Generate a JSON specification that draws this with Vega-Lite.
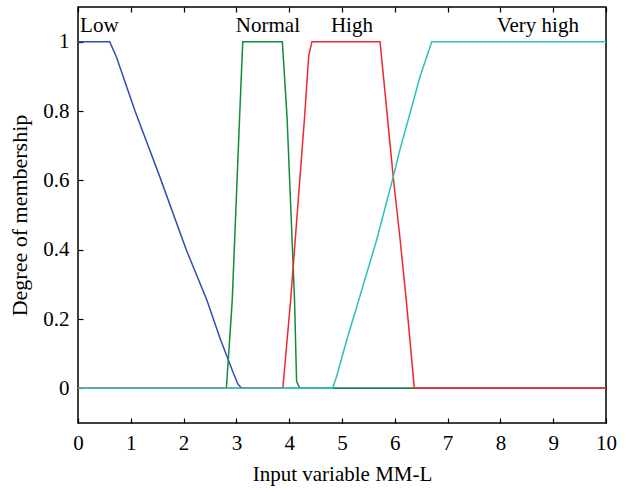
{
  "$schema": "https://vega.github.io/schema/vega-lite/v6.json",
  "width": 528,
  "height": 416,
  "autosize": {"type": "none"},
  "padding": {"left": 78, "top": 7, "right": 21, "bottom": 69},
  "background": "white",
  "datasets": {
    "lines": [
      {"set": "Low", "x": 0, "y": 1},
      {"set": "Low", "x": 0.6, "y": 1},
      {"set": "Low", "x": 0.73, "y": 0.955},
      {"set": "Low", "x": 1.08, "y": 0.8},
      {"set": "Low", "x": 1.55, "y": 0.61},
      {"set": "Low", "x": 2.05, "y": 0.4},
      {"set": "Low", "x": 2.44, "y": 0.255},
      {"set": "Low", "x": 2.7, "y": 0.14},
      {"set": "Low", "x": 2.94, "y": 0.045},
      {"set": "Low", "x": 3.03, "y": 0.012},
      {"set": "Low", "x": 3.1, "y": 0},
      {"set": "Low", "x": 10, "y": 0},
      {"set": "Normal", "x": 0, "y": 0},
      {"set": "Normal", "x": 2.81, "y": 0},
      {"set": "Normal", "x": 2.92, "y": 0.25},
      {"set": "Normal", "x": 3.06, "y": 0.78},
      {"set": "Normal", "x": 3.12, "y": 1},
      {"set": "Normal", "x": 3.87, "y": 1},
      {"set": "Normal", "x": 3.96, "y": 0.78},
      {"set": "Normal", "x": 4.1, "y": 0.26},
      {"set": "Normal", "x": 4.14, "y": 0.02},
      {"set": "Normal", "x": 4.2, "y": 0},
      {"set": "Normal", "x": 10, "y": 0},
      {"set": "High", "x": 0, "y": 0},
      {"set": "High", "x": 3.88, "y": 0},
      {"set": "High", "x": 4.03, "y": 0.26},
      {"set": "High", "x": 4.29, "y": 0.78},
      {"set": "High", "x": 4.37, "y": 0.96},
      {"set": "High", "x": 4.43, "y": 1},
      {"set": "High", "x": 5.72, "y": 1},
      {"set": "High", "x": 5.83, "y": 0.83},
      {"set": "High", "x": 5.97, "y": 0.61},
      {"set": "High", "x": 6.1, "y": 0.43},
      {"set": "High", "x": 6.22, "y": 0.25},
      {"set": "High", "x": 6.37, "y": 0},
      {"set": "High", "x": 10, "y": 0},
      {"set": "Very high", "x": 0, "y": 0},
      {"set": "Very high", "x": 4.82, "y": 0},
      {"set": "Very high", "x": 4.9, "y": 0.035},
      {"set": "Very high", "x": 5.09, "y": 0.14},
      {"set": "Very high", "x": 5.25, "y": 0.22},
      {"set": "Very high", "x": 5.66, "y": 0.43},
      {"set": "Very high", "x": 5.97, "y": 0.61},
      {"set": "Very high", "x": 6.1, "y": 0.69},
      {"set": "Very high", "x": 6.3, "y": 0.8},
      {"set": "Very high", "x": 6.48, "y": 0.9},
      {"set": "Very high", "x": 6.7, "y": 1},
      {"set": "Very high", "x": 10, "y": 1}
    ],
    "labels": [
      {"text": "Low", "x": 0.04, "y": 1.028},
      {"text": "Normal", "x": 2.99, "y": 1.028},
      {"text": "High", "x": 4.79, "y": 1.028},
      {"text": "Very high", "x": 7.93, "y": 1.028}
    ]
  },
  "layer": [
    {
      "data": {"name": "lines"},
      "mark": {"type": "line", "strokeWidth": 1.5},
      "encoding": {
        "x": {
          "field": "x", "type": "quantitative",
          "scale": {"domain": [0, 10], "nice": false},
          "axis": {
            "orient": "bottom", "values": [0,1,2,3,4,5,6,7,8,9,10], "format": "d",
            "title": "Input variable MM-L", "tickSize": -5, "labelPadding": 14,
            "labelFlush": false, "labelAlign": "center",
            "titlePadding": 10, "titleFontSize": 21, "domain": false, "grid": false
          }
        },
        "y": {
          "field": "y", "type": "quantitative",
          "scale": {"domain": [-0.1, 1.1], "nice": false, "zero": false},
          "axis": {
            "orient": "left", "values": [0, 0.2, 0.4, 0.6, 0.8, 1], "format": "~g",
            "title": "Degree of membership", "tickSize": -5, "labelPadding": 14,
            "labelFlush": false,
            "titlePadding": 11, "titleFontSize": 22, "domain": false, "grid": false
          }
        },
        "color": {
          "field": "set", "type": "nominal",
          "scale": {"domain": ["Low", "Normal", "High", "Very high"], "range": ["#2f4fb0", "#138a3e", "#f0282b", "#2ebfbf"]},
          "legend": null
        }
      }
    },
    {
      "data": {"name": "labels"},
      "mark": {"type": "text", "align": "left", "baseline": "alphabetic", "font": "Liberation Serif", "fontSize": 21, "color": "black"},
      "encoding": {
        "x": {
          "field": "x", "type": "quantitative",
          "axis": {"orient": "top", "values": [0,1,2,3,4,5,6,7,8,9,10], "labels": false, "title": null, "tickSize": -5, "domain": false, "grid": false}
        },
        "y": {"field": "y", "type": "quantitative"},
        "text": {"field": "text"}
      }
    }
  ],
  "resolve": {"axis": {"x": "independent"}},
  "config": {
    "view": {"stroke": "black", "strokeWidth": 1.5},
    "axis": {
      "labelFont": "Liberation Serif", "titleFont": "Liberation Serif",
      "labelFontSize": 21, "titleFontSize": 21, "titleFontWeight": "normal",
      "labelColor": "black", "titleColor": "black", "tickColor": "black", "tickWidth": 1.2
    }
  }
}
